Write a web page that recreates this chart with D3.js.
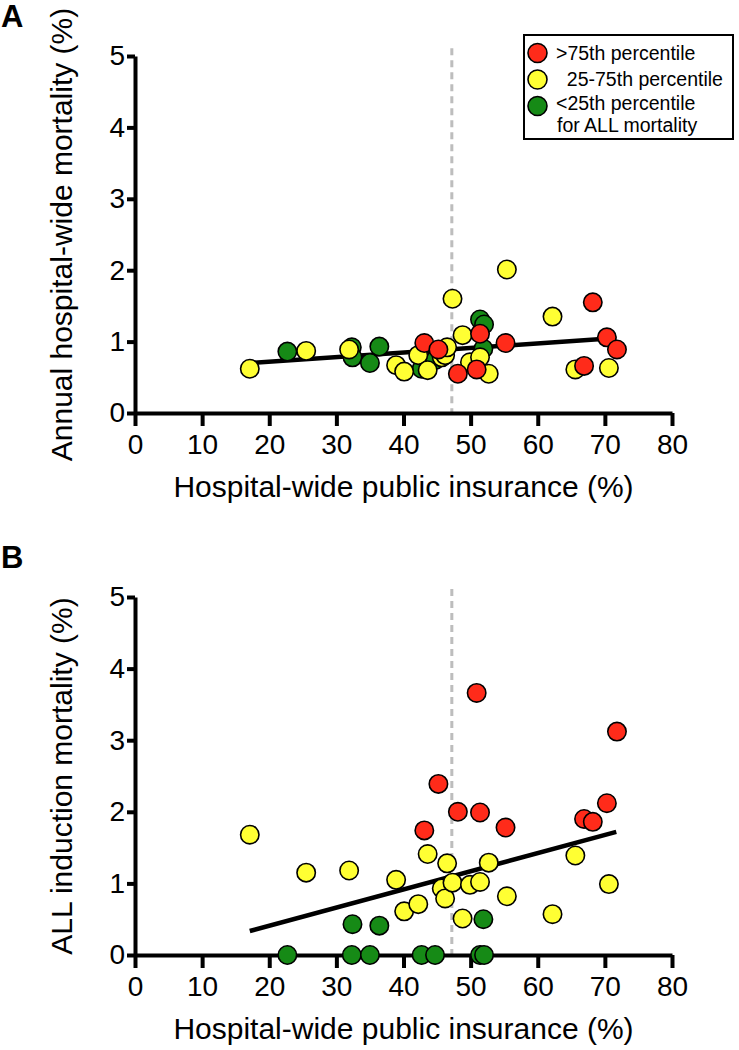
<!DOCTYPE html>
<html><head><meta charset="utf-8">
<script src="https://cdnjs.cloudflare.com/ajax/libs/d3/7.8.5/d3.min.js"></script>
<style>body{margin:0;background:#fff}svg{display:block;font-family:"Liberation Sans",Arial,sans-serif}</style>
</head><body><svg id="c" width="739" height="1050"></svg>
<script>
// Hospital-wide public insurance (%) per hospital
const groups = ["high","high","high","high","high","high","high","high","high","high",
  "mid","mid","mid","mid","mid","mid","mid","mid","mid","mid","mid","mid","mid","mid","mid","mid","mid","mid","mid",
  "low","low","low","low","low","low","low","low","low","low"];
const insurance = [43.1,45.2,48.1,50.9,51.4,55.2,66.9,68.2,70.3,71.8,
  17.1,25.5,31.9,38.9,40.1,42.2,43.6,45.7,46.2,46.5,47.3,48.8,49.9,51.4,52.7,55.4,62.2,65.6,70.6,
  22.7,32.3,32.4,35.0,36.4,42.7,44.7,51.4,52.0,51.9];
// Panel A: annual hospital-wide mortality (%)
const hospitalMortality = [0.98,0.89,0.55,0.61,1.11,0.98,0.66,1.55,1.06,0.89,
  0.62,0.87,0.89,0.67,0.58,0.81,0.60,0.78,0.81,0.92,1.60,1.09,0.71,0.78,0.55,2.01,1.35,0.61,0.63,
  0.86,0.92,0.78,0.70,0.93,0.62,0.74,1.31,1.24,0.90];
// Panel B: ALL induction mortality (%)
const allMortality = [1.74,2.39,2.00,3.66,1.99,1.78,1.90,1.86,2.12,3.12,
  1.68,1.15,1.18,1.05,0.61,0.71,1.41,0.93,0.79,1.28,1.01,0.51,0.98,1.02,1.29,0.82,0.57,1.39,0.99,
  0,0,0.43,0,0.41,0,0,0,0,0.50];
// Regression line endpoints
const fitX = [17.1, 71.7];
const fitA = [0.70, 1.05];
const fitB = [0.335, 1.72];
const medianLine = 47.2;
const xTicks = [0,10,20,30,40,50,60,70,80];
const yTicks = [0,1,2,3,4,5];
const legendLabels = [">75th percentile","  25-75th percentile","<25th percentile","for ALL mortality"];
const colorMap = {high:"#ff2b1a", mid:"#ffff33", low:"#168a16"};
const drawOrder = ["low","mid","high"];

const svg = d3.select("#c");
const x = d3.scaleLinear().domain([0,80]).range([135,672]);

function panel(top, bottom, yVals, fit, letter, yTitle) {
  const y = d3.scaleLinear().domain([0,5]).range([bottom, top]);
  const g = svg.append("g");
  // dashed vertical
  g.append("line").attr("x1",x(medianLine)).attr("x2",x(medianLine))
    .attr("y1",y(5.11)).attr("y2",y(0)).attr("stroke","#bdbdbd").attr("stroke-width",3)
    .attr("stroke-dasharray","7,5");
  // axes
  const xa = g.append("g").attr("transform",`translate(0,${bottom})`)
    .call(d3.axisBottom(x).tickValues(xTicks).tickSize(13).tickPadding(8).tickSizeOuter(0));
  const ya = g.append("g").attr("transform",`translate(135,0)`)
    .call(d3.axisLeft(y).tickValues(yTicks).tickFormat(d3.format("d")).tickSize(8).tickPadding(2).tickSizeOuter(0));
  [xa,ya].forEach(a=>{
    a.select(".domain").attr("stroke","#000").attr("stroke-width",4);
    a.selectAll(".tick line").attr("stroke","#000").attr("stroke-width",4);
    a.selectAll(".tick text").attr("fill","#000").attr("font-size",28).attr("font-family","Liberation Sans, Arial, sans-serif");
  });
  xa.selectAll(".tick text").attr("dy","0.71em");
  // fit line
  g.append("line").attr("x1",x(fitX[0])).attr("y1",y(fit[0])).attr("x2",x(fitX[1])).attr("y2",y(fit[1]))
    .attr("stroke","#000").attr("stroke-width",4.5);
  // points
  const idx = d3.range(insurance.length).sort((a,b)=>drawOrder.indexOf(groups[a])-drawOrder.indexOf(groups[b]));
  g.selectAll("circle.pt").data(idx).join("circle").attr("class","pt")
    .attr("cx",i=>x(insurance[i])).attr("cy",i=>y(yVals[i])).attr("r",9.2)
    .attr("fill",i=>colorMap[groups[i]]).attr("stroke","#000").attr("stroke-width",1.6);
  // letter
  g.append("text").attr("x",1).attr("y",top-29).attr("font-size",31).attr("font-weight","bold").text(letter);
  // titles
  g.append("text").attr("x",(135+672)/2).attr("y",bottom+84).attr("text-anchor","middle")
    .attr("font-size",30).text("Hospital-wide public insurance (%)");
  g.append("text").attr("transform",`translate(72,${(top+bottom)/2}) rotate(-90)`).attr("text-anchor","middle")
    .attr("font-size",30).text(yTitle);
}
panel(56, 413, hospitalMortality, fitA, "A", "Annual hospital-wide mortality (%)");
panel(597, 955, allMortality, fitB, "B", "ALL induction mortality (%)");

// legend
const lg = svg.append("g");
lg.append("rect").attr("x",524).attr("y",35).attr("width",209).attr("height",104)
  .attr("fill","#fff").attr("stroke","#000").attr("stroke-width",2);
const legendColors = ["high","mid","low"];
lg.selectAll("circle").data(legendColors).join("circle")
  .attr("cx",537.5).attr("cy",(d,i)=>53+i*26.5).attr("r",9.5)
  .attr("fill",d=>colorMap[d]).attr("stroke","#000").attr("stroke-width",1.6);
const baselines = [60,86,110,132];
lg.selectAll("text").data(legendLabels).join("text")
  .attr("x",(d,i)=>i===3?557:556).attr("y",(d,i)=>baselines[i]).attr("font-size",19.5)
  .attr("xml:space","preserve").style("white-space","pre").text(d=>d);
</script></body></html>
